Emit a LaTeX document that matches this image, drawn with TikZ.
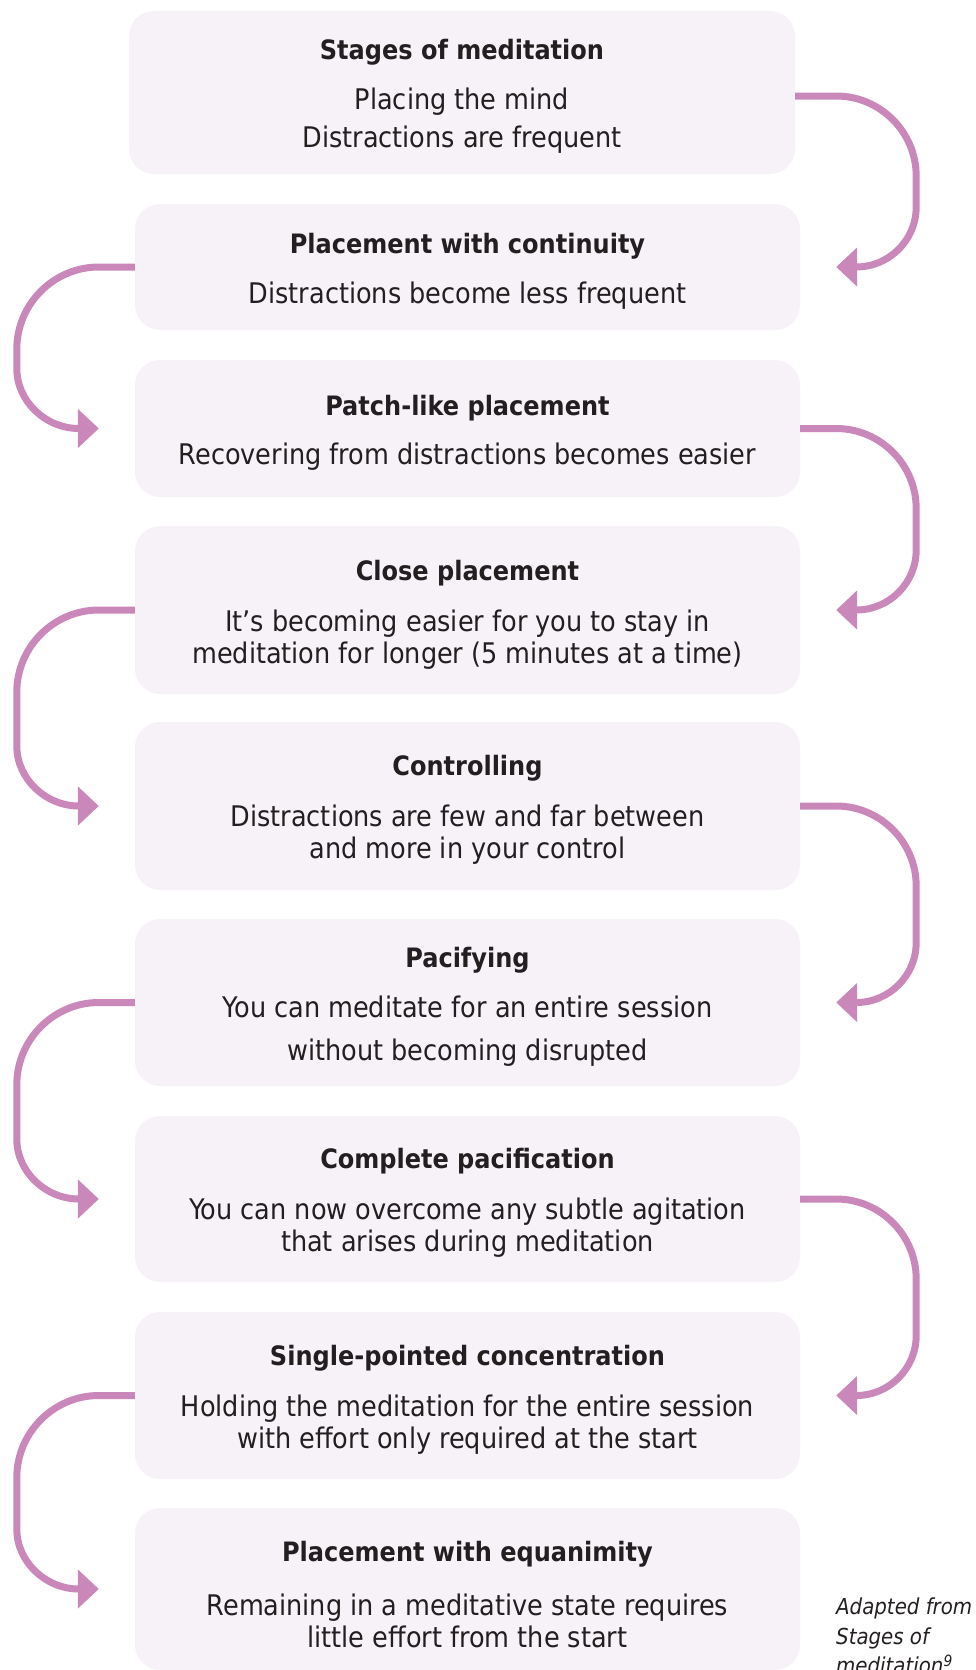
\documentclass[tikz,border=0pt]{standalone}
\usepackage{fontspec}
\setmainfont{DejaVu Sans Condensed}
\usetikzlibrary{arrows.meta,calc}
\definecolor{boxfill}{HTML}{F7F2F8}
\definecolor{arrowc}{HTML}{C987BA}
\definecolor{txt}{HTML}{231F20}
\tikzset{
 stagebox/.style={draw=none, fill=boxfill, rounded corners=25pt, inner sep=0pt},
 ttl/.style={font=\bfseries\fontsize{26.7}{31}\selectfont, text=txt, inner sep=0pt, yshift=-3pt},
 bodytxt/.style={font=\fontsize{28.4}{#1}\selectfont, text=txt, align=center, inner sep=0pt, yshift=-3pt},
 bodytxt/.default=32pt,
 arr/.style={draw=arrowc, line width=7pt, -{Triangle[length=21pt,width=38pt]}},
}
\newcommand\rarr[3][0]{\draw[arr] ($(#2.east)+(0,#1)$) -- ($(#3.east |- #2.east)+(36,#1)$) .. controls +(44,0) and +(0,-44) .. ($(#3.east |- #2.east)+(116,80+#1)$) -- ($(#3.east)+(116,-60)$) .. controls +(0,33) and +(33,0) .. ($(#3.east)+(56,0)$) -- ($(#3.east)+(36,0)$);}
\newcommand\larr[2]{\draw[arr] (#1.west) -- ($(#2.west |- #1.west)+(-36,0)$) .. controls +(-45,0) and +(0,-45) .. ($(#2.west |- #1.west)+(-118,82)$) -- ($(#2.west)+(-118,-60)$) .. controls +(0,33) and +(-33,0) .. ($(#2.west)+(-56,0)$) -- ($(#2.west)+(-36,0)$);}
\begin{document}
\begin{tikzpicture}[x=1pt,y=-1pt]
\useasboundingbox (0,0) rectangle (975,1670);
% boxes
\node[stagebox, minimum width=666pt, minimum height=163pt] (b1) at (462,92.5) {};
\node[stagebox, minimum width=665pt, minimum height=126pt] (b2) at (467.5,267) {};
\node[stagebox, minimum width=665pt, minimum height=137pt] (b3) at (467.5,428.5) {};
\node[stagebox, minimum width=665pt, minimum height=168pt] (b4) at (467.5,610) {};
\node[stagebox, minimum width=665pt, minimum height=168pt] (b5) at (467.5,806) {};
\node[stagebox, minimum width=665pt, minimum height=167pt] (b6) at (467.5,1002.5) {};
\node[stagebox, minimum width=665pt, minimum height=166pt] (b7) at (467.5,1199) {};
\node[stagebox, minimum width=665pt, minimum height=167pt] (b8) at (467.5,1395.5) {};
\node[stagebox, minimum width=665pt, minimum height=162pt] (b9) at (467.5,1589) {};
% titles
\node[ttl] (t1) at (462,49) {Stages of meditation};
\node[ttl] (t2) at (467.5,243) {Placement with continuity};
\node[ttl] (t3) at (467.5,405) {Patch-like placement};
\node[ttl] (t4) at (467.5,570) {Close placement};
\node[ttl] (t5) at (467.5,765) {Controlling};
\node[ttl] (t6) at (467.5,957) {Pacifying};
\node[ttl] (t7) at (467.5,1158) {Complete pacification};
\node[ttl] (t8) at (467.5,1355) {Single-pointed concentration};
\node[ttl] (t9) at (467.5,1551.5) {Placement with equanimity};
% bodies
\node[bodytxt=38pt] (d1) at (462,118) {Placing the mind\\Distractions are frequent};
\node[bodytxt] (d2) at (467.5,293) {Distractions become less frequent};
\node[bodytxt] (d3) at (467.5,454) {Recovering from distractions becomes easier};
\node[bodytxt] (d4) at (467.5,637) {It’s becoming easier for you to stay in\\meditation for longer (5 minutes at a time)};
\node[bodytxt] (d5) at (467.5,832) {Distractions are few and far between\\and more in your control};
\node[bodytxt=43pt] (d6) at (467.5,1028.5) {You can meditate for an entire session\\without becoming disrupted};
\node[bodytxt] (d7) at (467.5,1225) {You can now overcome any subtle agitation\\that arises during meditation};
\node[bodytxt] (d8) at (467.5,1421.5) {Holding the meditation for the entire session\\with effort only required at the start};
\node[bodytxt] (d9) at (467.5,1617.6) {Remaining in a meditative state requires\\little effort from the start};
% caption
\node[font=\itshape\fontsize{22}{29.5}\selectfont, text=txt, align=left, anchor=north west, inner sep=0pt] (cap) at (836,1598) {Adapted from\\Stages of\\meditation\textsuperscript{9}};
% arrows
\rarr[3.5]{b1}{b2}
\larr{b2}{b3}
\rarr{b3}{b4}
\larr{b4}{b5}
\rarr{b5}{b6}
\larr{b6}{b7}
\rarr{b7}{b8}
\larr{b8}{b9}
\end{tikzpicture}
\end{document}
